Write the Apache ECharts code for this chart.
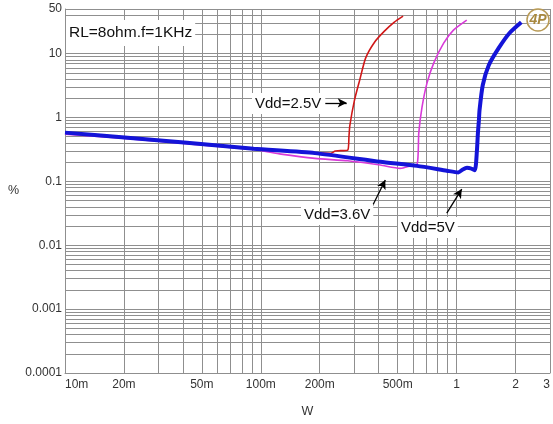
<!DOCTYPE html>
<html>
<head>
<meta charset="utf-8">
<script src="https://cdn.jsdelivr.net/npm/echarts@6/dist/echarts.min.js"></script>
<style>
html,body{margin:0;padding:0;background:#fff;}
#chart{width:553px;height:424px;}
</style>
</head>
<body>
<div id="chart"></div>
<script>
// ---- data (W, %) ----
var vdd25X = [0.01, 0.0195, 0.042, 0.092, 0.189, 0.228, 0.24, 0.278, 0.282, 0.285, 0.301, 0.320, 0.343, 0.381, 0.428, 0.481, 0.533];
var vdd25Y = [0.57, 0.49, 0.405, 0.33, 0.28, 0.275, 0.30, 0.31, 0.5, 0.75, 1.87, 3.85, 8.5, 15.1, 22.5, 31.1, 38.6];

var vdd36X = [0.01, 0.0195, 0.042, 0.092, 0.127, 0.189, 0.278, 0.408, 0.515, 0.533, 0.56, 0.628, 0.641, 0.666, 0.706, 0.764, 0.859, 0.964, 1.127];
var vdd36Y = [0.55, 0.475, 0.39, 0.315, 0.267, 0.229, 0.210, 0.180, 0.160, 0.162, 0.17, 0.183, 0.57, 1.45, 3.45, 7.1, 14.6, 23.3, 33.4];

var vdd5X = [0.01, 0.0195, 0.042, 0.092, 0.189, 0.408, 0.628, 0.891, 1.02, 1.07, 1.13, 1.18, 1.24, 1.27, 1.285, 1.30, 1.31, 1.36, 1.46, 1.64, 1.86, 2.14];
var vdd5Y = [0.58, 0.489, 0.402, 0.324, 0.277, 0.203, 0.175, 0.147, 0.138, 0.152, 0.163, 0.160, 0.150, 0.3, 0.57, 0.9, 1.31, 3.2, 6.6, 12.2, 20.9, 31];

// ---- tick labels ----
var xTickValues = [0.01, 0.02, 0.05, 0.1, 0.2, 0.5, 1, 2, 3];
var xTickLabels = ['10m', '20m', '50m', '100m', '200m', '500m', '1', '2', '3'];
var yTickValues = [0.0001, 0.001, 0.01, 0.1, 1, 10, 50];
var yTickLabels = ['0.0001', '0.001', '0.01', '0.1', '1', '10', '50'];

// grid line positions (1..9 per decade)
var xGrid = [];
[0.01, 0.1].forEach(function (d) { for (var k = 1; k <= 9; k++) xGrid.push(k * d); });
xGrid.push(1, 2, 3);
var yGrid = [];
[0.0001, 0.001, 0.01, 0.1, 1].forEach(function (d) { for (var k = 1; k <= 9; k++) yGrid.push(k * d); });
yGrid.push(10, 20, 30, 40, 50);

function zip(xs, ys) { return xs.map(function (x, i) { return [x, ys[i]]; }); }
function labelFor(values, labels) {
  return function (v) {
    var best = 0, bd = Infinity;
    for (var i = 0; i < values.length; i++) {
      var d = Math.abs(Math.log(v / values[i]));
      if (d < bd) { bd = d; best = i; }
    }
    return bd < 0.01 ? labels[best] : '';
  };
}

var chart = echarts.init(document.getElementById('chart'), null, { renderer: 'canvas' });
var gridColor = '#8f8f8f';
var labelFont = { fontFamily: '"Liberation Sans Narrow", "Liberation Sans", Arial, sans-serif', fontSize: 12, color: '#333' };
var annFont = '"Liberation Sans", Arial, sans-serif';

chart.setOption({
  animation: false,
  backgroundColor: '#fff',
  grid: { left: 65, top: 9, width: 489, height: 364, containLabel: false },
  xAxis: {
    type: 'log', logBase: 10, min: 0.01, max: 3,
    name: 'W', nameLocation: 'middle', nameGap: 32,
    nameTextStyle: { fontFamily: labelFont.fontFamily, fontSize: 12.5, color: '#333' },
    axisLine: { show: true, lineStyle: { color: gridColor, width: 1 } },
    axisTick: { show: false, customValues: xGrid },
    axisLabel: {
      customValues: xTickValues, formatter: labelFor(xTickValues, xTickLabels),
      margin: 6, alignMinLabel: 'left', alignMaxLabel: 'right',
      fontFamily: labelFont.fontFamily, fontSize: labelFont.fontSize, color: labelFont.color
    },
    splitLine: { show: true, lineStyle: { color: gridColor, width: 1 } },
    minorTick: { show: false }, minorSplitLine: { show: false }
  },
  yAxis: {
    type: 'log', logBase: 10, min: 0.0001, max: 50,
    name: '%', nameLocation: 'middle', nameRotate: 0, nameGap: 46,
    nameTextStyle: { fontFamily: labelFont.fontFamily, fontSize: 12.5, color: '#333' },
    axisLine: { show: true, lineStyle: { color: gridColor, width: 1 } },
    axisTick: { show: false, customValues: yGrid },
    axisLabel: {
      customValues: yTickValues, formatter: labelFor(yTickValues, yTickLabels),
      margin: 3, fontFamily: labelFont.fontFamily, fontSize: labelFont.fontSize, color: labelFont.color
    },
    splitLine: { show: true, lineStyle: { color: gridColor, width: 1 } }
  },
  series: [
    {
      name: 'Vdd=2.5V', type: 'line', data: zip(vdd25X, vdd25Y), showSymbol: false, symbol: 'none',
      smooth: 0.2,
      lineStyle: { color: '#d01818', width: 1.6 }, z: 3, silent: true,
      markLine: {
        silent: true, symbol: ['none', 'arrow'], symbolSize: [7, 9], label: { show: false },
        lineStyle: { color: '#000', width: 1.3, type: 'solid' },
        data: [
          [{ coord: [0.210, 1.70] }, { coord: [0.2747, 1.70] }],
          [{ coord: [0.363, 0.0356] }, { coord: [0.4325, 0.105] }],
          [{ coord: [0.891, 0.0319] }, { coord: [1.063, 0.0757] }]
        ]
      }
    },
    {
      name: 'Vdd=3.6V', type: 'line', data: zip(vdd36X, vdd36Y), showSymbol: false, symbol: 'none',
      smooth: 0.2,
      lineStyle: { color: '#d83ad8', width: 1.6 }, z: 3, silent: true
    },
    {
      name: 'Vdd=5V', type: 'line', data: zip(vdd5X, vdd5Y), showSymbol: false, symbol: 'none',
      smooth: 0.2,
      lineStyle: { color: '#1414d8', width: 4 }, z: 4, silent: true
    }
  ],
  graphic: [
    { type: 'text', left: 66, top: 20, z: 10, style: { text: 'RL=8ohm.f=1KHz', font: '15.5px ' + annFont, fill: '#111', backgroundColor: '#fff', padding: [5, 3, 5, 3] } },
    { type: 'text', left: 252, top: 93, z: 10, style: { text: 'Vdd=2.5V', font: '15px ' + annFont, fill: '#111', backgroundColor: '#fff', padding: [3, 4, 3, 3] } },
    { type: 'text', left: 301, top: 204, z: 10, style: { text: 'Vdd=3.6V', font: '15px ' + annFont, fill: '#111', backgroundColor: '#fff', padding: [3, 3, 3, 3] } },
    { type: 'text', left: 398, top: 217, z: 10, style: { text: 'Vdd=5V', font: '15px ' + annFont, fill: '#111', backgroundColor: '#fff', padding: [3, 3, 3, 3] } },
    { type: 'circle', shape: { cx: 538, cy: 20, r: 11 }, z: 10, style: { fill: 'rgba(255,255,255,0.6)', stroke: '#b89a55', lineWidth: 1.5 } },
    { type: 'text', x: 538, y: 20, z: 11, style: { text: '4P', font: 'italic bold 14px ' + annFont, fill: '#a8883e', align: 'center', verticalAlign: 'middle' } }
  ]
});
</script>
</body>
</html>
